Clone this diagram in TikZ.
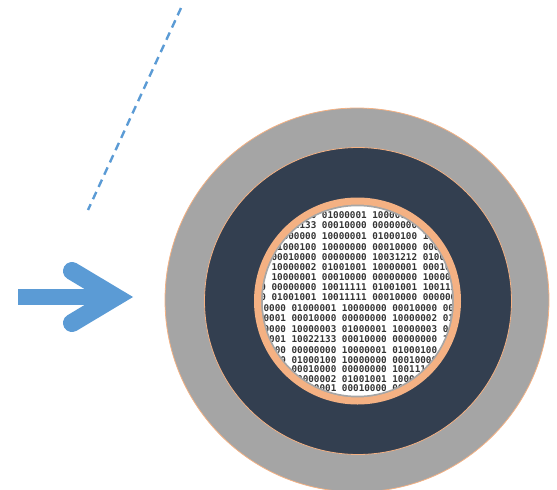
\documentclass[tikz,border=0pt]{standalone}
\usepackage{fontspec}
\newfontfamily\binfont{DejaVu Sans Mono}
\definecolor{ringgray}{HTML}{A5A5A5}
\definecolor{navy}{HTML}{333F50}
\definecolor{peach}{HTML}{F4B183}
\definecolor{arrowblue}{HTML}{5B9BD5}
\tikzset{
  disc/.style={circle, inner sep=0pt, outer sep=0pt},
  binrow/.style={anchor=west, inner sep=0pt, text=black!80,
    font=\binfont\bfseries\fontsize{9.3}{10}\selectfont},
  dashline/.style={draw=arrowblue, line width=2.4pt, dash pattern=on 8pt off 5.5pt},
  shaft/.style={draw=arrowblue, line width=16pt},
  chevron/.style={draw=arrowblue, line width=18pt, line cap=round, line join=miter}
}
\begin{document}
\begin{tikzpicture}[x=1pt, y=-1pt]
\useasboundingbox (0,0) rectangle (557,490);
% rings
\node[disc, minimum size=384pt, fill=ringgray, draw=peach, line width=0.8pt] (outer) at (357,300) {};
\node[disc, minimum size=307pt, fill=navy, draw=peach, line width=0.8pt] (mid) at (358,301) {};
\node[disc, minimum size=196pt, fill=white] (core) at (357.5,301) {};
% binary text
\begin{scope}
\clip (core.center) circle (97pt);
\node[binrow] (r1) at (221,215) {10000000 00000000 01000001 10000000 00010000};
\node[binrow] (r2) at (221,225.3) {00000000 10022133 00010000 00000000 10000001};
\node[binrow] (r3) at (221,236.5) {00010000 10000000 10000001 01000100 10000000};
\node[binrow] (r4) at (221,246.8) {10000001 01000100 10000000 00010000 00000000};
\node[binrow] (r5) at (221,256.8) {01001001 00010000 00000000 10031212 01000100};
\node[binrow] (r6) at (221,266.8) {00000000 10000002 01001001 10000001 00010000};
\node[binrow] (r7) at (221,276.8) {01000100 10000001 00010000 00000000 10000000};
\node[binrow] (r8) at (221,286.8) {10000000 00000000 10011111 01001001 10011111};
\node[binrow] (r9) at (221,296.8) {00010000 01001001 10011111 00010000 00000000};
\node[binrow] (r10) at (241,308) {10000000 01000001 10000000 00010000 00000000};
\node[binrow] (r11) at (241,318) {10000001 00010000 00000000 10000002 01001001};
\node[binrow] (r12) at (241,329) {00000000 10000003 01000001 10000003 00010000};
\node[binrow] (r13) at (241,339.5) {01000001 10022133 00010000 00000000 10000001};
\node[binrow] (r14) at (241,349.8) {00000000 00000000 10000001 01000100 10000000};
\node[binrow] (r15) at (241,359.8) {10000000 01000100 10000000 00010000 00000000};
\node[binrow] (r16) at (241,369.3) {01000100 00010000 00000000 10011111 01001001};
\node[binrow] (r17) at (241,378.8) {00010000 10000002 01001001 10000001 00010000};
\node[binrow] (r18) at (241,388.5) {10000001 01000001 00010000 00000000 10000000};
\draw[black!35, line width=2.5pt] (core.center) circle (96pt);
\end{scope}
\draw[peach, line width=7pt] (core.center) circle (100pt);
% dashed line
\coordinate (d1) at (181,8);
\coordinate (d2) at (88,210);
\draw[dashline] (d1) -- (d2);
% arrow
\coordinate (s1) at (18,297);
\coordinate (s2) at (112,297);
\coordinate (a1) at (72,271);
\coordinate (av) at (115.5,297);
\coordinate (a2) at (72,323);
\draw[shaft] (s1) -- (s2);
\draw[chevron] (a1) -- (av) -- (a2);
\end{tikzpicture}
\end{document}
